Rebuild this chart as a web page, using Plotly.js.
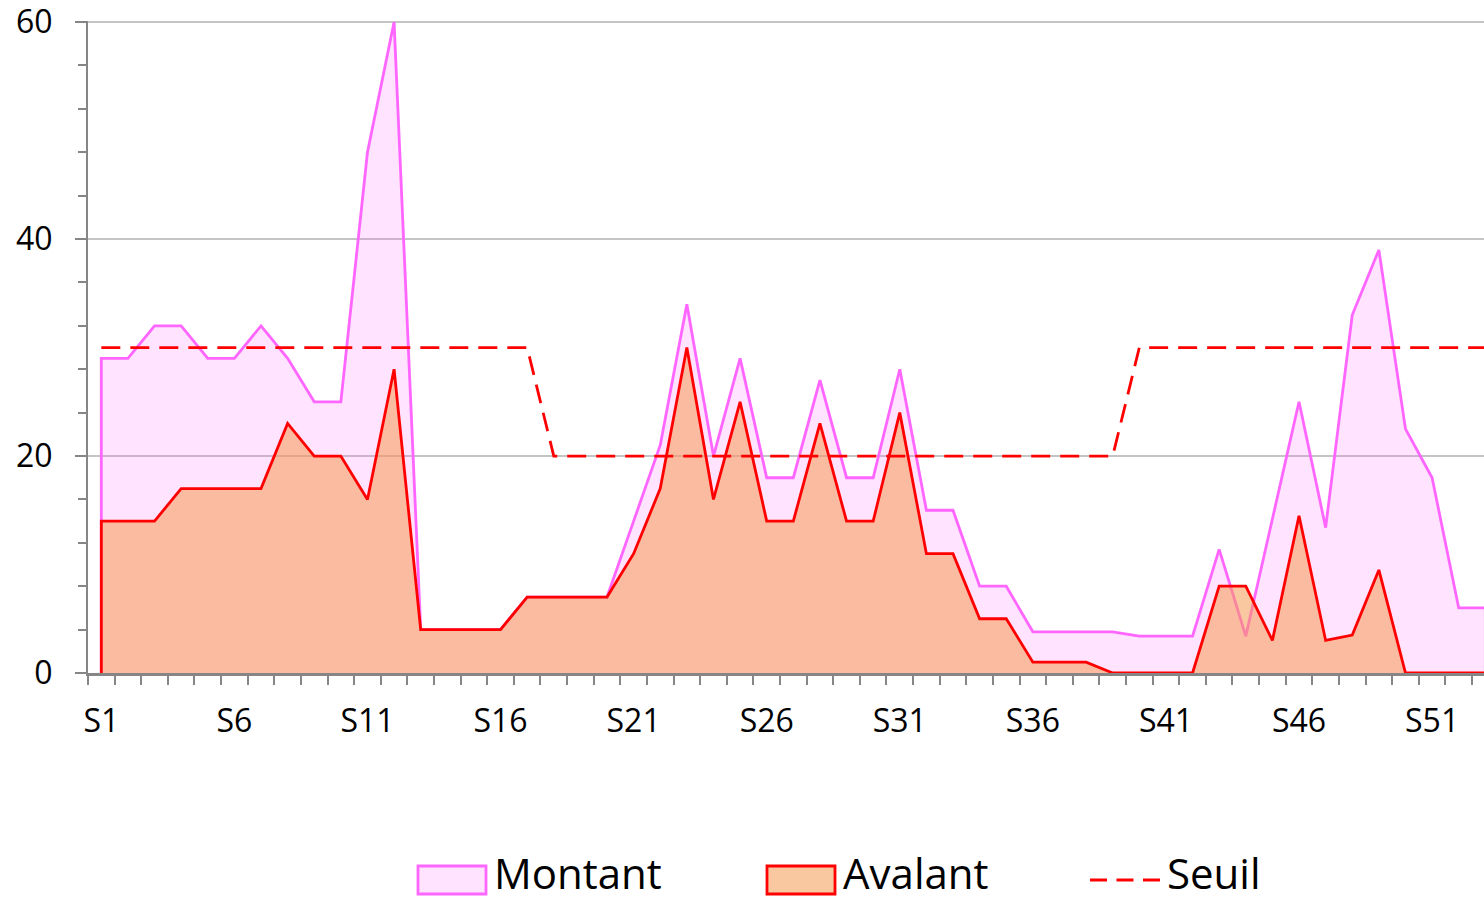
<!DOCTYPE html>
<html>
<head>
<meta charset="utf-8">
<script src="https://cdn.plot.ly/plotly-3.0.1.min.js"></script>
<style>html,body{margin:0;padding:0;background:#fff;}#chart{width:1484px;height:901px;}</style>
</head>
<body>
<div id="chart"></div>
<script>
const categories = ['S1','S2','S3','S4','S5','S6','S7','S8','S9','S10',
  'S11','S12','S13','S14','S15','S16','S17','S18','S19','S20',
  'S21','S22','S23','S24','S25','S26','S27','S28','S29','S30',
  'S31','S32','S33','S34','S35','S36','S37','S38','S39','S40',
  'S41','S42','S43','S44','S45','S46','S47','S48','S49','S50',
  'S51','S52','S53'];
const montant = [29,29,32,32,29,29,32,29,25,25,
  48,60,4,4,4,4,7,7,7,7,
  14,21,34,20,29,18,18,27,18,18,
  28,15,15,8,8,3.8,3.8,3.8,3.8,3.4,
  3.4,3.4,11.4,3.4,14.2,25,13.4,33,39,22.5,
  18,6,6];
const avalant = [14,14,14,17,17,17,17,23,20,20,
  16,28,4,4,4,4,7,7,7,7,
  11,17,30,16,25,14,14,23,14,14,
  24,11,11,5,5,1,1,1,0,0,
  0,0,8,8,3,14.5,3,3.5,9.5,0,
  0,0,0];
const seuil = [30,30,30,30,30,30,30,30,30,30,
  30,30,30,30,30,30,30,20,20,20,
  20,20,20,20,20,20,20,20,20,20,
  20,20,20,20,20,20,20,20,20,30,
  30,30,30,30,30,30,30,30,30,30,
  30,30,30];
const yTicks = [0, 20, 40, 60];
const labelStep = 5;
const seriesNames = ['Montant', 'Avalant', 'Seuil'];

const COL = {
  montantLine: '#FF66FF', montantFill: 'rgba(255,102,255,0.18)',
  avalantLine: '#FF0000', avalantFill: 'rgba(246,155,82,0.55)',
  seuilLine: '#FF0000'
};
const FONT = 'Open Sans, sans-serif';
const LW = 2.8;

const xIdx = categories.map((c, i) => i);
const last = xIdx.length - 1;
// area outline: up from the baseline at the first category, along the data, down at the last one
function areaX() { return [xIdx[0]].concat(xIdx, [xIdx[last]]); }
function areaY(vals) { return [0].concat(vals, [0]); }
const tickIdx = xIdx.filter(i => i % labelStep === 0);
const tickText = tickIdx.map(i => categories[i]);

const traces = [
  {
    name: seriesNames[0], type: 'scatter', mode: 'lines',
    x: areaX(), y: areaY(montant),
    fill: 'toself', fillcolor: COL.montantFill,
    line: {color: COL.montantLine, width: LW}, hoverinfo: 'skip'
  },
  {
    name: seriesNames[1], type: 'scatter', mode: 'lines',
    x: areaX(), y: areaY(avalant),
    fill: 'toself', fillcolor: COL.avalantFill,
    line: {color: COL.avalantLine, width: LW}, hoverinfo: 'skip'
  },
  {
    name: seriesNames[2], type: 'scatter', mode: 'lines',
    x: xIdx, y: seuil,
    line: {color: COL.seuilLine, width: LW, dash: '19px,10px'}, hoverinfo: 'skip'
  }
];

// Legend drawn below the plot (pixel offsets from the plot's bottom-left corner)
const PL = 88, PB = 673;
const LEG_TOP = 866, LEG_BOTTOM = 894, LEG_MID = 880, TEXT_MID = 872;
function box(left, right, fill, lineColor) {
  return {type: 'rect', xref: 'paper', yref: 'paper', xsizemode: 'pixel', ysizemode: 'pixel',
    xanchor: 0, yanchor: 0, x0: left - PL, x1: right - PL, y0: PB - LEG_BOTTOM, y1: PB - LEG_TOP,
    fillcolor: fill, line: {color: lineColor, width: LW}, layer: 'above'};
}
const shapes = [
  box(418, 486, COL.montantFill, COL.montantLine),
  box(767, 835, COL.avalantFill, COL.avalantLine),
  {type: 'line', xref: 'paper', yref: 'paper', xsizemode: 'pixel', ysizemode: 'pixel',
    xanchor: 0, yanchor: 0, x0: 1090 - PL, x1: 1160 - PL, y0: PB - LEG_MID, y1: PB - LEG_MID,
    line: {color: COL.seuilLine, width: LW, dash: '17px,9.5px'}, layer: 'above'}
];
function legendText(txt, left) {
  return {text: txt, xref: 'paper', yref: 'paper', x: 0, y: 0, xanchor: 'left', yanchor: 'middle',
    xshift: left - PL, yshift: PB - TEXT_MID, showarrow: false,
    font: {family: FONT, size: 42, color: '#000000'}};
}
const annotations = [
  legendText(seriesNames[0], 492),
  legendText(seriesNames[1], 841),
  legendText(seriesNames[2], 1165)
];

const layout = {
  width: 1484, height: 901,
  margin: {l: 88, r: 0, t: 21, b: 228, pad: 0},
  paper_bgcolor: '#ffffff', plot_bgcolor: '#ffffff',
  font: {family: FONT, color: '#000000'},
  showlegend: false,
  shapes: shapes,
  annotations: annotations,
  xaxis: {
    type: 'linear', range: [-0.5, 51.95], fixedrange: true, automargin: false,
    tickmode: 'array', tickvals: tickIdx, ticktext: tickText,
    ticks: '', showgrid: false, zeroline: false,
    showline: true, linecolor: '#868686', linewidth: 3,
    tickfont: {family: FONT, size: 32, color: '#000000'},
    ticklabelstandoff: 18,
    minor: {tickmode: 'linear', tick0: -0.5, dtick: 1, ticks: 'outside', ticklen: 9, tickwidth: 2, tickcolor: '#868686', showgrid: false}
  },
  yaxis: {
    range: [0, 60.1], fixedrange: true, automargin: false,
    tickmode: 'array', tickvals: yTicks, ticktext: yTicks.map(String),
    ticklabeloverflow: 'allow',
    showgrid: true, gridcolor: '#C4C4C4', gridwidth: 2,
    zeroline: false,
    showline: true, linecolor: '#868686', linewidth: 2,
    ticks: 'outside', ticklen: 11, tickwidth: 2, tickcolor: '#868686',
    tickfont: {family: FONT, size: 32, color: '#000000'},
    ticklabelstandoff: 16,
    minor: {tickmode: 'linear', tick0: 0, dtick: 4, ticks: 'outside', ticklen: 8, tickwidth: 2, tickcolor: '#868686', showgrid: false}
  }
};

Plotly.newPlot('chart', traces, layout, {displayModeBar: false, staticPlot: true});
</script>
</body>
</html>
